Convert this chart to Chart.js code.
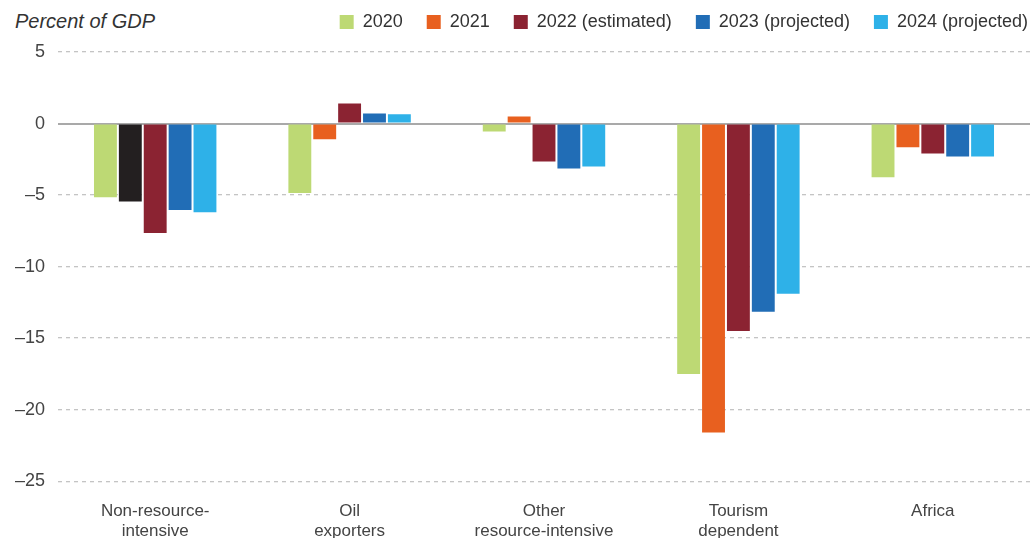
<!DOCTYPE html>
<html>
<head>
<meta charset="utf-8">
<script src="https://cdn.jsdelivr.net/npm/chart.js@4/dist/chart.umd.min.js"></script>
<style>
  html, body { margin: 0; padding: 0; background: #fff; overflow: hidden; }
  body { width: 1034px; height: 538px; position: relative; }
  #unit {
    position: absolute; left: 15px; top: 10px;
    font: italic 20px "Liberation Sans", Arial, sans-serif; color: #333;
  }
  #wrap { position: absolute; left: 0; top: -11px; width: 1052px; height: 565px; }
</style>
</head>
<body>
<div id="unit">Percent of GDP</div>
<div id="wrap"><canvas id="chart"></canvas></div>
<script>
// categories and series (percent of GDP)
const groups = [
  ["Non-resource-", "intensive"],
  ["Oil", "exporters"],
  ["Other", "resource-intensive"],
  ["Tourism", "dependent"],
  ["Africa"],
];
const seriesNames = ["2020", "2021", "2022 (estimated)", "2023 (projected)", "2024 (projected)"];
const v2020 = [-5.15, -4.85, -0.55, -17.5, -3.75];
const v2021 = [-5.45, -1.1, 0.5, -21.6, -1.65];
const v2022 = [-7.65, 1.4, -2.65, -14.5, -2.1];
const v2023 = [-6.05, 0.7, -3.15, -13.15, -2.3];
const v2024 = [-6.2, 0.65, -3.0, -11.9, -2.3];
const yTicks = [5, 0, -5, -10, -15, -20, -25];

const colors = ["#bdd974", "#e8601f", "#8b2332", "#216db6", "#2eb1e8"];
const oddBar = "#231f20"; // first 2021 bar is drawn dark in the source

const FONT = "'Liberation Sans', Arial, sans-serif";

const ctx = document.getElementById("chart").getContext("2d");

const values = [v2020, v2021, v2022, v2023, v2024];
const datasets = values.map((data, i) => ({
  label: seriesNames[i],
  data: data,
  backgroundColor:
    i === 1
      ? (c) => (c.type === "data" && c.dataIndex === 0 ? oddBar : colors[1])
      : colors[i],
  borderWidth: 0,
  barPercentage: 0.92,
  categoryPercentage: 0.64,
}));

new Chart(ctx, {
  type: "bar",
  data: { labels: groups, datasets: datasets },
  options: {
    responsive: true,
    maintainAspectRatio: false,
    animation: false,
    layout: { padding: 0 },
    scales: {
      x: {
        grid: { display: false },
        border: { display: false },
        ticks: {
          font: { size: 17, family: FONT },
          color: "#444",
          padding: 12,
          maxRotation: 0,
          autoSkip: false,
        },
      },
      // empty spacer between legend and plot
      topGap: {
        type: "category",
        position: "top",
        grid: { display: false },
        border: { display: false },
        ticks: { display: false },
        afterFit: (s) => { s.height = 11; },
      },
      y: {
        min: -25,
        max: 5,
        afterFit: (s) => { s.width = 58; },
        afterBuildTicks: (s) => { s.ticks = yTicks.map((v) => ({ value: v })); },
        ticks: {
          font: { size: 18, family: FONT },
          color: "#444",
          padding: 13,
          callback: (v) => (v < 0 ? "\u2013" + Math.abs(v) : String(v)),
        },
        grid: {
          drawTicks: false,
          color: (c) => (c.tick && c.tick.value === 0 ? "#a9a9a9" : "#c4c4c4"),
          lineWidth: (c) => (c.tick && c.tick.value === 0 ? 2 : 1.3),
        },
        border: {
          display: false,
          dash: (c) => (c.tick && c.tick.value === 0 ? [] : [4, 4]),
        },
      },
      // empty spacer so the plot stops short of the legend's right edge
      spacer: {
        type: "linear",
        position: "right",
        grid: { display: false },
        border: { display: false },
        ticks: { display: false },
        afterFit: (s) => { s.width = 22; },
      },
    },
    plugins: {
      legend: {
        position: "top",
        align: "end",
        labels: {
          font: { size: 18, family: FONT },
          color: "#333",
          boxWidth: 14,
          boxHeight: 14,
          padding: 24,
          generateLabels: (chart) => {
            const items = Chart.defaults.plugins.legend.labels.generateLabels(chart);
            items.forEach((it, i) => {
              it.fillStyle = colors[i];
              it.strokeStyle = colors[i];
              it.lineWidth = 0;
            });
            return items;
          },
        },
      },
      tooltip: { enabled: false },
    },
  },
});
</script>
</body>
</html>
